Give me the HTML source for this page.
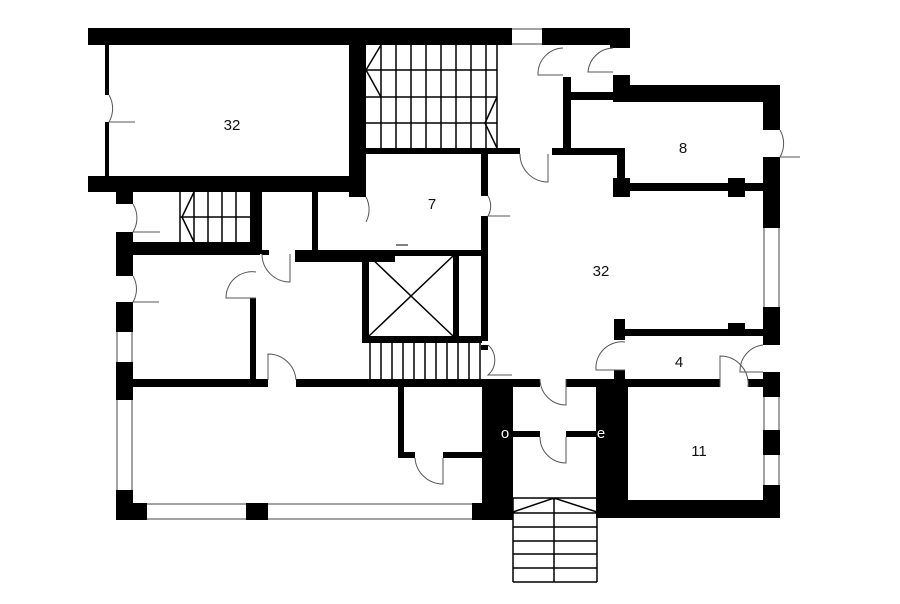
<!DOCTYPE html>
<html><head><meta charset="utf-8"><style>html,body{margin:0;padding:0;background:#fff}svg{display:block}</style></head>
<body>
<svg width="900" height="604" viewBox="0 0 900 604" xmlns="http://www.w3.org/2000/svg" font-family="Liberation Sans, sans-serif">
<rect width="900" height="604" fill="#fff"/>
<g fill="#000">
<!-- top wall -->
<rect x="88" y="28" width="424" height="17"/>
<rect x="542" y="28" width="88" height="17"/>
<!-- room 32 left -->
<rect x="105" y="45" width="4" height="50"/>
<rect x="105" y="122" width="4" height="55"/>
<rect x="88" y="176" width="278" height="16"/>
<rect x="349" y="45" width="17" height="152"/>
<!-- stairs bottom wall -->
<rect x="366" y="148" width="154" height="6"/>
<rect x="552" y="148" width="73" height="7"/>
<!-- vertical corridor wall -->
<rect x="481" y="148" width="7" height="48"/>
<rect x="481" y="216" width="7" height="125"/>
<rect x="481" y="345" width="7" height="5"/>
<rect x="563" y="77" width="8" height="71"/>
<rect x="571" y="92" width="42" height="8"/>
<rect x="613" y="75" width="17" height="27"/>
<rect x="610" y="28" width="20" height="20"/>
<!-- room 8 -->
<rect x="613" y="85" width="167" height="17"/>
<rect x="763" y="85" width="17" height="45"/>
<rect x="763" y="157" width="17" height="71"/>
<rect x="617" y="148" width="8" height="35"/>
<rect x="613" y="183" width="150" height="8"/>
<rect x="613" y="178" width="17" height="19"/>
<rect x="728" y="178" width="17" height="19"/>
<!-- room 4 -->
<rect x="614" y="319" width="11" height="21"/>
<rect x="616" y="329" width="147" height="7"/>
<rect x="728" y="323" width="17" height="10"/>
<rect x="763" y="307" width="17" height="38"/>
<rect x="614" y="370" width="11" height="12"/>
<rect x="614" y="379" width="106" height="8"/>
<rect x="748" y="379" width="32" height="8"/>
<!-- room 11 -->
<rect x="763" y="372" width="17" height="25"/>
<rect x="763" y="430" width="17" height="25"/>
<rect x="763" y="485" width="17" height="33"/>
<rect x="596" y="385" width="32" height="133"/>
<rect x="596" y="500" width="184" height="18"/>
<!-- entry -->
<rect x="482" y="385" width="31" height="133"/>
<rect x="482" y="379" width="58" height="8"/>
<rect x="566" y="379" width="60" height="8"/>
<rect x="513" y="431" width="27" height="6"/>
<rect x="566" y="431" width="30" height="6"/>
<!-- left part -->
<rect x="116" y="192" width="17" height="12"/>
<rect x="116" y="232" width="17" height="44"/>
<rect x="116" y="302" width="17" height="30"/>
<rect x="116" y="362" width="17" height="38"/>
<rect x="116" y="490" width="17" height="30"/>
<rect x="116" y="503" width="31" height="17"/>
<rect x="246" y="503" width="22" height="17"/>
<rect x="472" y="503" width="41" height="17"/>
<rect x="133" y="242" width="127" height="13"/>
<rect x="250" y="192" width="12" height="62"/>
<rect x="312" y="192" width="6" height="58"/>
<rect x="262" y="250" width="7" height="5"/>
<rect x="295" y="250" width="100" height="12"/>
<rect x="423" y="250" width="58" height="6"/>
<rect x="250" y="298" width="6" height="84"/>
<rect x="133" y="379" width="135" height="8"/>
<rect x="296" y="379" width="186" height="8"/>
<rect x="398" y="386" width="6" height="72"/>
<rect x="398" y="452" width="17" height="6"/>
<rect x="443" y="452" width="39" height="6"/>
<!-- elevator -->
<rect x="362" y="256" width="7" height="87"/>
<rect x="453" y="256" width="6" height="84"/>
<rect x="362" y="336" width="120" height="7"/>
<rect x="362" y="250" width="120" height="6"/>
</g>
<g stroke="#000" stroke-width="1.5" fill="none">
<!-- top stairs grid -->
<path d="M381 45V148M396 45V148M411 45V148M426 45V148M441 45V148M456 45V148M471 45V148M486 45V148M497 45V148M366 70H497M366 97H497M366 123H497"/>
<path d="M381 45L366 70L381 97M497 97L485 123L497 148"/>
<!-- small stairs -->
<path d="M180 192V242M194 192V242M208 192V242M222 192V242M236 192V242M180 217H250M194 192L182 217L194 242"/>
<!-- elevator X -->
<path d="M369 256L453 336M453 256L369 336"/>
<!-- lower stairs -->
<path d="M370 343V380M381 343V380M392 343V380M403 343V380M414 343V380M425 343V380M436 343V380M447 343V380M458 343V380M469 343V380M480 343V380"/>
<!-- entry stairs -->
<path d="M513 498H597M513 513H597M513 527H597M513 541H597M513 554H597M513 568H597M513 582H597M513 498V582M597 498V582M554 498V582M513 512L554 498L597 512"/>
<path d="M396 245H408" stroke-width="1"/>
</g>
<!-- windows -->
<g stroke="#444" stroke-width="1" fill="none">
<path d="M512 29H542M512 44H542M147 504H246M147 519H246M268 504H472M268 519H472M117 332V362M132 332V362M117 400V490M132 400V490M764 228V307M779 228V307M764 397V430M779 397V430M764 455V485M779 455V485"/>
</g>
<!-- doors -->
<g stroke="#555" stroke-width="1" fill="none">
<path d="M109 95A27 27 0 0 1 109 122H135"/>
<path d="M133 204A27 27 0 0 1 133 232H160"/>
<path d="M133 276A26 26 0 0 1 133 302H159"/>
<path d="M256 272A26 26 0 0 0 226 298H256"/>
<path d="M268 380V354A28 28 0 0 1 296 380"/>
<path d="M262 254A28 28 0 0 0 290 282V254"/>
<path d="M366 197A27 27 0 0 1 366 222"/>
<path d="M488 196A20 20 0 0 1 488 216H510"/>
<path d="M488 345A20 20 0 0 1 488 375H512"/>
<path d="M520 154A28 28 0 0 0 548 182V154"/>
<path d="M540 379A26 26 0 0 0 566 405V379"/>
<path d="M540 437A26 26 0 0 0 566 463V437"/>
<path d="M415 458A28 28 0 0 0 443 484V458"/>
<path d="M563 48A26 26 0 0 0 538 75H563"/>
<path d="M613 48A26 26 0 0 0 588 72H613"/>
<path d="M780 130A27 27 0 0 1 780 157H800"/>
<path d="M625 342A26 26 0 0 0 596 370H625"/>
<path d="M720 387V356A28 28 0 0 1 748 387"/>
<path d="M763 345A26 26 0 0 0 740 372H763"/>
</g>
<g font-size="15" fill="#111" text-anchor="middle">
<text x="232" y="130">32</text>
<text x="432" y="209">7</text>
<text x="683" y="153">8</text>
<text x="601" y="276">32</text>
<text x="679" y="367">4</text>
<text x="699" y="456">11</text>
</g>
<g font-size="15" fill="#fff" text-anchor="middle">
<text x="505" y="438">o</text>
<text x="601" y="438">e</text>
</g>
</svg>
</body></html>
